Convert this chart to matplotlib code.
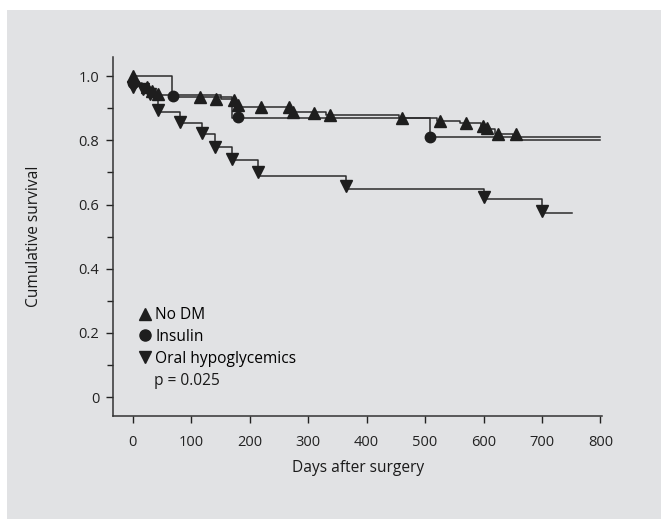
import numpy as np
import matplotlib
matplotlib.use("Agg")
import matplotlib.pyplot as plt
from matplotlib.lines import Line2D
from matplotlib.patches import Rectangle

plt.rcParams['font.family'] = ['Open Sans', 'DejaVu Sans']

# step curves (day, survival)
nodm_t = [0, 5, 15, 30, 42, 150, 172, 180, 270, 330, 455, 520, 560, 595, 605, 620, 650, 800]
nodm_s = [1.0, 0.98, 0.965, 0.955, 0.94, 0.93, 0.92, 0.905, 0.89, 0.88, 0.87, 0.86, 0.855, 0.845, 0.835, 0.82, 0.80, 0.80]
ins_t = [0, 67, 170, 509, 800]
ins_s = [1.0, 0.935, 0.87, 0.812, 0.812]
oral_t = [0, 2, 18, 30, 43, 80, 118, 140, 170, 214, 365, 601, 700, 752]
oral_s = [1.0, 0.97, 0.96, 0.945, 0.89, 0.855, 0.82, 0.78, 0.74, 0.69, 0.65, 0.617, 0.573, 0.573]

# markers
nodm_mt = [0, 24, 33, 43, 115, 142, 173, 180, 219, 267, 274, 310, 337, 460, 526, 570, 599, 606, 625, 656]
nodm_ms = [1.0, 0.965, 0.955, 0.945, 0.935, 0.93, 0.925, 0.91, 0.905, 0.905, 0.89, 0.885, 0.88, 0.87, 0.86, 0.855, 0.845, 0.84, 0.82, 0.82]
ins_mt = [0, 69, 180, 509]
ins_ms = [0.98, 0.937, 0.872, 0.812]
oral_mt = [0, 18, 30, 43, 80, 118, 140, 170, 214, 365, 601, 700]
oral_ms = [0.965, 0.96, 0.945, 0.895, 0.857, 0.822, 0.779, 0.741, 0.70, 0.657, 0.625, 0.58]

xticks = [0, 100, 200, 300, 400, 500, 600, 700, 800]
yticks = [0, 0.2, 0.4, 0.6, 0.8, 1.0]
ytick_labels = ['0', '0.2', '0.4', '0.6', '0.8', '1.0']

fig = plt.figure(figsize=(6.61, 5.19), dpi=100)
fig.patch.set_facecolor('white')
fig.patches.append(Rectangle((7 / 661, 0), 1, 1 - 10 / 519, transform=fig.transFigure,
                             facecolor='#e1e2e4', edgecolor='none', zorder=-10))

ax = fig.add_axes([0.171, 0.1985, 0.740, 0.6917])
ax.set_facecolor('none')

lc = '#2b2b2b'
ax.step(nodm_t, nodm_s, where='post', color=lc, lw=1.1)
ax.step(ins_t, ins_s, where='post', color=lc, lw=1.1)
ax.step(oral_t, oral_s, where='post', color=lc, lw=1.1)
ax.plot(nodm_mt, nodm_ms, '^', color='#1e1e1e', ms=8, ls='none')
ax.plot(ins_mt, ins_ms, 'o', color='#1e1e1e', ms=7.5, ls='none')
ax.plot(oral_mt, oral_ms, 'v', color='#1e1e1e', ms=8, ls='none')

ax.set_xlim(-34, 803)
ax.set_ylim(-0.059, 1.06)
ax.set_xticks(xticks)
ax.set_yticks(yticks)
ax.set_yticklabels(ytick_labels)
ax.set_yticks(np.arange(0.1, 1.0, 0.2), minor=True)
ax.tick_params(which='major', direction='out', length=5, width=1, colors='#222', labelsize=10.5)
ax.tick_params(axis='y', which='major', pad=5)
ax.tick_params(axis='x', which='major', pad=9)
ax.tick_params(which='minor', direction='out', length=4, width=1, colors='#222')
for s in ['top', 'right']:
    ax.spines[s].set_visible(False)
for s in ['left', 'bottom']:
    ax.spines[s].set_color('#333')
    ax.spines[s].set_linewidth(1.1)

ax.set_xlabel('Days after surgery', fontsize=11.2, color='#1a1a1a', labelpad=7)
ax.set_ylabel('Cumulative survival', fontsize=11.2, color='#1a1a1a', labelpad=26)

handles = [Line2D([], [], marker='^', ls='none', color='#1e1e1e', ms=8),
           Line2D([], [], marker='o', ls='none', color='#1e1e1e', ms=8),
           Line2D([], [], marker='v', ls='none', color='#1e1e1e', ms=8)]
ax.legend(handles, ['No DM', 'Insulin', 'Oral hypoglycemics'], loc='lower left',
          bbox_to_anchor=(0.04, 0.116), frameon=False, fontsize=11.2,
          handlelength=0.6, handletextpad=0.35, labelspacing=0.37, borderpad=0)
ax.text(0.084, 0.097, 'p = 0.025', transform=ax.transAxes, fontsize=11.2, color='#1a1a1a', va='center')

fig.savefig('out.png', dpi=100, facecolor='white')
